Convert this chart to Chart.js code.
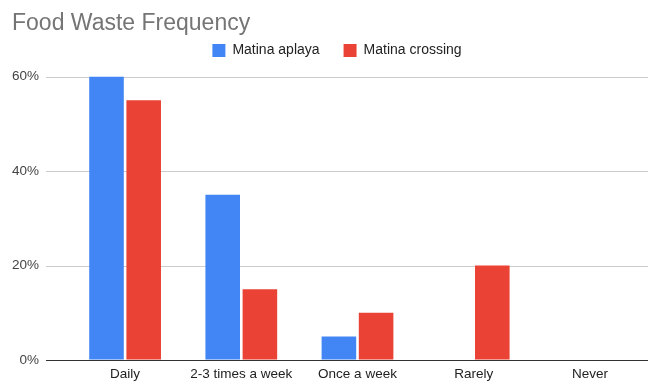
<!DOCTYPE html>
<html>
<head>
<meta charset="utf-8">
<script src="https://cdn.jsdelivr.net/npm/chart.js@4"></script>
<style>
  html, body { margin: 0; padding: 0; background: #fff; }
</style>
</head>
<body>
<canvas id="wasteChart" width="657" height="385"></canvas>
<script>
const categories = ['Daily', '2-3 times a week', 'Once a week', 'Rarely', 'Never'];
const matinaAplaya = [60, 35, 5, 0, 0];
const matinaCrossing = [55, 15, 10, 20, 0];
const yTicks = [0, 20, 40, 60];

const FONT = '"Liberation Sans", Arial, sans-serif';

// horizontal grid lines run further left than the bars, so draw them by hand
const gridPlugin = {
    id: 'gridLines',
    beforeDatasetsDraw(chart) {
        const ctx = chart.ctx;
        const y = chart.scales.y;
        const area = chart.chartArea;
        ctx.save();
        yTicks.forEach(v => {
            const py = Math.round(y.getPixelForValue(v)) + 0.5;
            ctx.beginPath();
            ctx.moveTo(46, py);
            ctx.lineTo(area.right, py);
            ctx.lineWidth = 1;
            ctx.strokeStyle = v === 0 ? '#333333' : '#cccccc';
            ctx.stroke();
        });
        ctx.restore();
    }
};

// extra gap under the legend, and nudge it a little to the right
const legendSpacing = {
    id: 'legendSpacing',
    beforeLayout(chart) {
        const legend = chart.legend;
        if (!legend || legend._spaced) return;
        const fit = legend.fit;
        legend.fit = function () {
            fit.call(this);
            this.height += 9;
        };
        legend._spaced = true;
    },
    afterLayout(chart) {
        chart.legend.left += 7;
        chart.legend.right += 7;
    }
};

const ctx = document.getElementById('wasteChart').getContext('2d');
const wasteChart = new Chart(ctx, {
    type: 'bar',
    data: {
        labels: categories,
        datasets: [{
            label: 'Matina aplaya',
            data: matinaAplaya,
            backgroundColor: '#4285f4'
        }, {
            label: 'Matina crossing',
            data: matinaCrossing,
            backgroundColor: '#ea4335'
        }]
    },
    options: {
        responsive: false,
        animation: false,
        layout: {
            padding: { left: 12, right: 9, top: 0, bottom: 0 }
        },
        datasets: {
            bar: {
                categoryPercentage: 0.64,
                barPercentage: 0.93
            }
        },
        plugins: {
            title: {
                display: true,
                text: 'Food Waste Frequency',
                align: 'start',
                color: '#757575',
                font: { family: FONT, size: 23, weight: 'normal' },
                padding: { top: 10, bottom: -18 }
            },
            legend: {
                display: true,
                position: 'top',
                labels: {
                    color: '#222222',
                    font: { family: FONT, size: 14 },
                    boxWidth: 13,
                    boxHeight: 13,
                    padding: 24
                }
            },
            tooltip: { enabled: false }
        },
        scales: {
            x: {
                afterFit: scale => { scale.height = 25; },
                grid: { display: false, drawTicks: false },
                border: { display: false },
                ticks: {
                    color: '#222222',
                    font: { family: FONT, size: 13.5 },
                    padding: 6,
                    maxRotation: 0
                }
            },
            y: {
                min: 0,
                max: 60,
                afterFit: scale => { scale.width = 55; },
                afterBuildTicks: scale => { scale.ticks = yTicks.map(v => ({ value: v })); },
                // invisible tick marks keep the labels clear of the grid lines
                grid: {
                    display: true,
                    drawOnChartArea: false,
                    drawTicks: true,
                    tickLength: 28,
                    color: 'rgba(0,0,0,0)'
                },
                border: { display: false },
                ticks: {
                    color: '#444444',
                    font: { family: FONT, size: 13.5 },
                    padding: 0,
                    callback: v => v + '%'
                }
            }
        }
    },
    plugins: [gridPlugin, legendSpacing]
});
</script>
</body>
</html>
